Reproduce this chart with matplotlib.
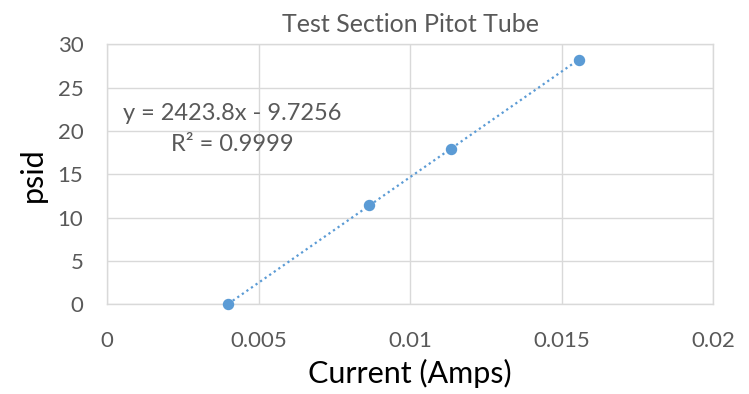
import numpy as np
import matplotlib
matplotlib.use("Agg")
import matplotlib.pyplot as plt

# values
current = [0.0040, 0.00863, 0.01135, 0.01556]
psid = [0.0, 11.45, 17.95, 28.15]
x_ticks = [0, 0.005, 0.01, 0.015, 0.02]
x_tick_labels = ["0", "0.005", "0.01", "0.015", "0.02"]
y_ticks = [0, 5, 10, 15, 20, 25, 30]
eq_label = "y = 2423.8x - 9.7256\nR² = 0.9999"

BLUE = "#5B9BD5"
GRAY = "#595959"
GRID = "#D9D9D9"

plt.rcParams["font.family"] = ["Lato", "DejaVu Sans"]

fig = plt.figure(figsize=(7.49, 3.94), dpi=100)
ax = fig.add_axes([0.1429, 0.2273, 0.8091, 0.6607])

# linear trendline between the first and last point
k, b = np.polyfit(current, psid, 1)
xs = np.array([min(current), max(current)])
ax.plot(xs, k * xs + b, linestyle=(0, (1, 1.5)), color=BLUE, linewidth=1.6, zorder=2)
ax.scatter(current, psid, s=52, color=BLUE, zorder=3, clip_on=False)

ax.set_xlim(0, 0.02)
ax.set_ylim(0, 30)
ax.set_xticks(x_ticks)
ax.set_xticklabels(x_tick_labels)
ax.set_yticks(y_ticks)
ax.tick_params(length=0, labelsize=16, labelcolor=GRAY)
ax.tick_params(axis="x", pad=19)
ax.tick_params(axis="y", pad=17)
ax.grid(True, color=GRID, linewidth=1)
ax.set_axisbelow(True)
for s in ax.spines.values():
    s.set_color(GRID)
    s.set_linewidth(1)

ax.text(0.004125, 20.26, eq_label, ha="center", va="center",
        fontsize=17, color=GRAY, linespacing=1.6)

ax.set_title("Test Section Pitot Tube", fontsize=18, color=GRAY, pad=9)
ax.set_xlabel("Current (Amps)", fontsize=22, color="black", labelpad=6)
ax.set_ylabel("psid", fontsize=22, color="black", labelpad=8)

fig.savefig("out.png", dpi=100)
